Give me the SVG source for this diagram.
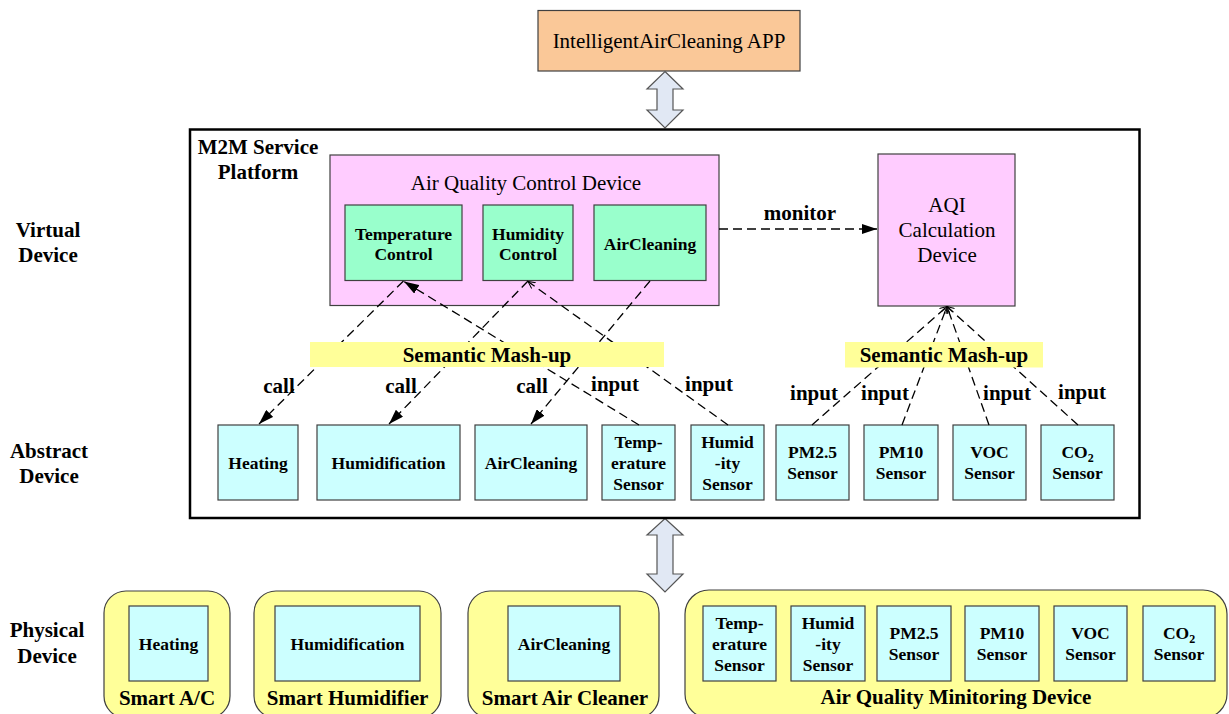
<svg xmlns="http://www.w3.org/2000/svg" width="1229" height="714" viewBox="0 0 1229 714">
<style>
text{font-family:"Liberation Serif","Times New Roman",serif;fill:#000;text-anchor:middle}
.b{font-weight:bold}
.t21{font-size:21px}
.t17{font-size:17.5px;font-weight:bold}
.box{stroke:#404040;stroke-width:1.2}
.cyan{fill:#CCFFFF}
.green{fill:#99FFCC}
.pink{fill:#FFCCFF}
.yel{fill:#FFFF99}
.dash{fill:none;stroke:#000;stroke-width:1.3;stroke-dasharray:9,5}
.dbl{fill:#E1E8F4;stroke:#555;stroke-width:1.2}
</style>
<defs>
<marker id="af" markerUnits="userSpaceOnUse" markerWidth="16" markerHeight="10" refX="15" refY="5" orient="auto">
<path d="M0,0 L15,5 L0,10 z" fill="#000"/>
</marker>
<marker id="ao" markerUnits="userSpaceOnUse" markerWidth="8" markerHeight="8" refX="7" refY="4" orient="auto">
<path d="M0,0.5 L7,4 L0,7.5" fill="none" stroke="#000" stroke-width="1"/>
</marker>
</defs>

<!-- App -->
<g id="app">
<rect x="538" y="10.5" width="262" height="60.5" fill="#FAC898" class="box"/>
<text x="669" y="48" class="t21">IntelligentAirCleaning APP</text>
</g>

<!-- double arrows -->
<g id="link-top">
<path class="dbl" d="M665,71.5 L683,89 L673,89 L673,110 L683,110 L665,128 L647,110 L657,110 L657,89 L647,89 z"/>
</g>
<g id="link-bottom">
<path class="dbl" d="M665,518.5 L683,535 L673,535 L673,574 L683,574 L665,592 L647,574 L657,574 L657,535 L647,535 z"/>
</g>

<!-- Platform -->
<g id="platform">
<rect x="190" y="129.5" width="949.5" height="388.5" fill="none" stroke="#000" stroke-width="2.5"/>
<text x="258" y="154" class="t21 b">M2M Service</text>
<text x="258" y="179" class="t21 b">Platform</text>
</g>

<!-- Layer labels -->
<g id="layer-labels">
<text x="48" y="237" class="t21 b">Virtual</text>
<text x="48" y="262" class="t21 b">Device</text>
<text x="49" y="458" class="t21 b">Abstract</text>
<text x="49" y="483" class="t21 b">Device</text>
<text x="47" y="637" class="t21 b">Physical</text>
<text x="47" y="663" class="t21 b">Device</text>
</g>

<!-- Virtual devices -->
<g id="aqcd">
<rect x="330" y="155" width="389" height="150.5" class="box pink"/>
<text x="526" y="189.5" class="t21">Air Quality Control Device</text>
</g>
<g id="temp-control">
<rect x="345" y="205" width="117" height="75.5" class="box green"/>
<text x="403.5" y="239.5" class="t17">Temperature</text>
<text x="403.5" y="259.5" class="t17">Control</text>
</g>
<g id="humidity-control">
<rect x="483" y="205" width="90" height="75.5" class="box green"/>
<text x="528" y="239.5" class="t17">Humidity</text>
<text x="528" y="259.5" class="t17">Control</text>
</g>
<g id="aircleaning-control">
<rect x="594" y="205" width="112" height="75.5" class="box green"/>
<text x="650" y="249.5" class="t17">AirCleaning</text>
</g>
<g id="aqi">
<rect x="878" y="154" width="137" height="152" class="box pink"/>
<text x="947" y="212" class="t21">AQI</text>
<text x="947" y="237" class="t21">Calculation</text>
<text x="947" y="262" class="t21">Device</text>
</g>

<!-- Abstract devices -->
<g id="abs-heating">
<rect x="218" y="425" width="80" height="75" class="box cyan"/>
<text x="258" y="468.5" class="t17">Heating</text>
</g>
<g id="abs-humidification">
<rect x="317" y="425" width="143" height="75" class="box cyan"/>
<text x="388.5" y="468.5" class="t17">Humidification</text>
</g>
<g id="abs-aircleaning">
<rect x="475" y="425" width="112" height="75" class="box cyan"/>
<text x="531" y="468.5" class="t17">AirCleaning</text>
</g>
<g id="abs-temp-sensor">
<rect x="602" y="425" width="73" height="75" class="box cyan"/>
<text x="638.5" y="447.5" class="t17">Temp-</text>
<text x="638.5" y="468.5" class="t17">erature</text>
<text x="638.5" y="489.5" class="t17">Sensor</text>
</g>
<g id="abs-humid-sensor">
<rect x="691" y="425" width="73" height="75" class="box cyan"/>
<text x="727.5" y="447.5" class="t17">Humid</text>
<text x="727.5" y="468.5" class="t17">-ity</text>
<text x="727.5" y="489.5" class="t17">Sensor</text>
</g>
<g id="abs-pm25">
<rect x="776" y="425" width="73" height="75" class="box cyan"/>
<text x="812.5" y="457.5" class="t17">PM2.5</text>
<text x="812.5" y="479" class="t17">Sensor</text>
</g>
<g id="abs-pm10">
<rect x="864" y="425" width="74" height="75" class="box cyan"/>
<text x="901" y="457.5" class="t17">PM10</text>
<text x="901" y="479" class="t17">Sensor</text>
</g>
<g id="abs-voc">
<rect x="953" y="425" width="73" height="75" class="box cyan"/>
<text x="989.5" y="457.5" class="t17">VOC</text>
<text x="989.5" y="479" class="t17">Sensor</text>
</g>
<g id="abs-co2">
<rect x="1041" y="425" width="73" height="75" class="box cyan"/>
<text x="1077.5" y="457.5" class="t17">CO<tspan font-size="12" dy="4">2</tspan></text>
<text x="1077.5" y="479" class="t17">Sensor</text>
</g>

<!-- Connectors -->
<g id="connectors">
<line class="dash" x1="403.5" y1="281" x2="259" y2="424" marker-end="url(#af)"/>
<line class="dash" x1="528" y1="281" x2="389" y2="424" marker-end="url(#af)"/>
<line class="dash" x1="650" y1="281" x2="531" y2="424" marker-end="url(#af)"/>
<line class="dash" x1="639" y1="425" x2="404" y2="281.5" marker-end="url(#af)"/>
<line class="dash" x1="728" y1="425" x2="528" y2="281.5" marker-end="url(#ao)"/>
<line class="dash" x1="719" y1="229" x2="877" y2="229" marker-end="url(#af)"/>
<line class="dash" x1="812" y1="425" x2="947" y2="306.5" marker-end="url(#ao)"/>
<line class="dash" x1="902" y1="425" x2="947" y2="306.5" marker-end="url(#ao)"/>
<line class="dash" x1="989" y1="425" x2="947" y2="306.5" marker-end="url(#ao)"/>
<line class="dash" x1="1078" y1="425" x2="947" y2="306.5" marker-end="url(#ao)"/>
</g>

<!-- Mash-up bars and connector labels -->
<g id="mashup-left">
<rect x="310" y="342" width="354" height="25" class="yel"/>
<text x="487" y="362" class="t21 b">Semantic Mash-up</text>
</g>
<g id="mashup-right">
<rect x="845" y="342" width="198" height="25.5" class="yel"/>
<text x="944" y="362" class="t21 b">Semantic Mash-up</text>
</g>
<g id="connector-labels">
<text x="800" y="220" class="t21 b">monitor</text>
<text x="279" y="393" class="t21 b">call</text>
<text x="401" y="393" class="t21 b">call</text>
<text x="532" y="393" class="t21 b">call</text>
<text x="615" y="391" class="t21 b">input</text>
<text x="709" y="391" class="t21 b">input</text>
<text x="814" y="400" class="t21 b">input</text>
<text x="885" y="400" class="t21 b">input</text>
<text x="1007" y="400" class="t21 b">input</text>
<text x="1082" y="399" class="t21 b">input</text>
</g>

<!-- Physical devices -->
<g id="smart-ac">
<rect x="104" y="591" width="126" height="127" rx="22" class="box yel"/>
<rect x="129" y="606" width="79" height="75" class="box cyan"/>
<text x="168.5" y="649.5" class="t17">Heating</text>
<text x="167" y="705" class="t21 b">Smart A/C</text>
</g>
<g id="smart-humidifier">
<rect x="254" y="591" width="187" height="127" rx="22" class="box yel"/>
<rect x="275" y="606" width="145" height="75" class="box cyan"/>
<text x="347.5" y="649.5" class="t17">Humidification</text>
<text x="347.5" y="705" class="t21 b">Smart Humidifier</text>
</g>
<g id="smart-air-cleaner">
<rect x="468" y="591" width="191" height="127" rx="22" class="box yel"/>
<rect x="508" y="606" width="112" height="75" class="box cyan"/>
<text x="564" y="649.5" class="t17">AirCleaning</text>
<text x="565" y="705" class="t21 b">Smart Air Cleaner</text>
</g>
<g id="aq-monitoring">
<rect x="685" y="590" width="542" height="128" rx="24" class="box yel"/>
<rect x="703" y="606" width="73" height="75" class="box cyan"/>
<text x="739.5" y="629" class="t17">Temp-</text>
<text x="739.5" y="650" class="t17">erature</text>
<text x="739.5" y="671" class="t17">Sensor</text>
<rect x="791" y="606" width="74" height="75" class="box cyan"/>
<text x="828" y="629" class="t17">Humid</text>
<text x="828" y="650" class="t17">-ity</text>
<text x="828" y="671" class="t17">Sensor</text>
<rect x="877" y="606" width="74" height="75" class="box cyan"/>
<text x="914" y="639" class="t17">PM2.5</text>
<text x="914" y="660" class="t17">Sensor</text>
<rect x="965" y="606" width="74" height="75" class="box cyan"/>
<text x="1002" y="639" class="t17">PM10</text>
<text x="1002" y="660" class="t17">Sensor</text>
<rect x="1054" y="606" width="73" height="75" class="box cyan"/>
<text x="1090.5" y="639" class="t17">VOC</text>
<text x="1090.5" y="660" class="t17">Sensor</text>
<rect x="1143" y="606" width="72" height="75" class="box cyan"/>
<text x="1179" y="639" class="t17">CO<tspan font-size="12" dy="4">2</tspan></text>
<text x="1179" y="660" class="t17">Sensor</text>
<text x="956" y="704" class="t21 b">Air Quality Minitoring Device</text>
</g>
</svg>
